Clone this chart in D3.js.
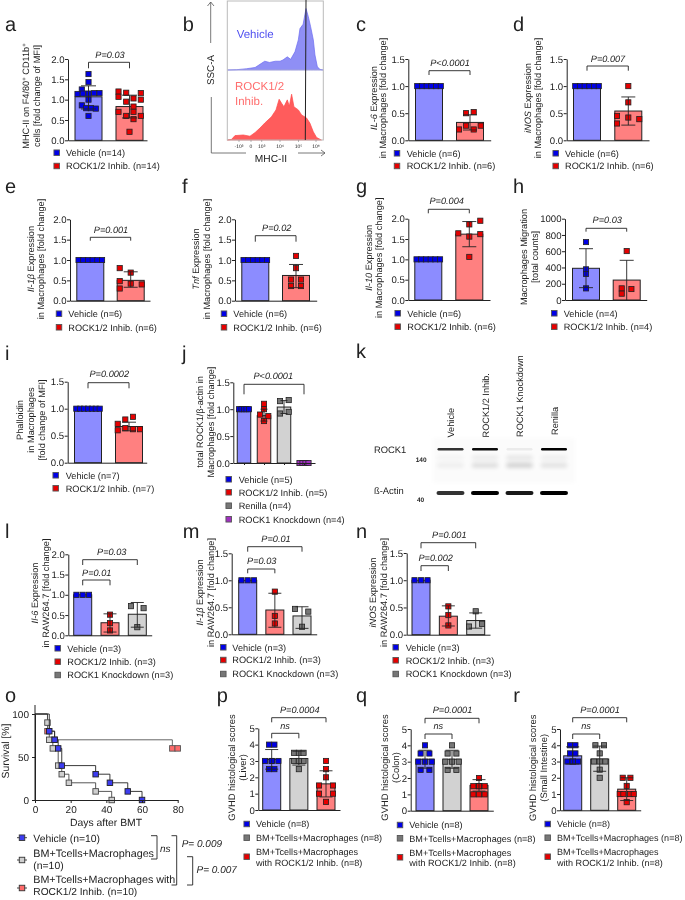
<!DOCTYPE html>
<html><head><meta charset="utf-8">
<script src="https://cdnjs.cloudflare.com/ajax/libs/d3/7.8.5/d3.min.js"></script>
<style>html,body{margin:0;padding:0;background:#fff}svg{display:block;filter:blur(.3px)}text{font-family:"Liberation Sans",Arial,sans-serif;fill:#222;text-rendering:geometricPrecision}</style>
</head><body><svg id="c" width="685" height="900"></svg>
<script>
// ---------- DATA ----------
const one=n=>Array(n).fill(1);
const aVeh=[1.63,1.43,1.25,1.14,1.15,1.16,1.16,.86,.79,.79,.78,.6,1.15,1.0];
const aRock=[1.2,1.07,1.17,1.16,1.0,.95,.83,.7,.7,.6,.52,.6,.21,1.03];
const aMean=[1.07,.83],aLo=[.77,.55],aHi=[1.34,1.11];
const cRock=[.5,.52,.27,.27,.2,.2],cMean=[1,.33],cLo=[1,.19],cHi=[1,.47];
const dRock=[1,.7,.45,.42,.39,.31],dMean=[1,.54],dLo=[1,.28],dHi=[1,.8];
const eRock=[.8,.69,.48,.42,.4,.3],eMean=[1,.5],eLo=[1,.33],eHi=[1,.71];
const fRock=[1.1,.8,.52,.52,.36,.36],fMean=[1,.62],fLo=[1,.32],fHi=[1,.89];
const gRock=[1.95,1.86,1.64,1.62,1.56,1.06],gMean=[1,1.62],gLo=[1,1.31],gHi=[1,1.93];
const hVeh=[713,377,320,143],hRock=[602,143,135,78],hMean=[390,245],hLo=[152,0],hHi=[631,488];
const iRock=[.85,.8,.72,.64,.6,.62,.62],iMean=[1,.67],iLo=[1,.59],iHi=[1,.75];
const jRock=[1.1,1,.9,.87,.78],jRen=[1.15,1.17,.92,.95],jKd=[0,0,0,0],jMean=[1,.88,1.04,0],jLo=[1,.78,.92,0],jHi=[1,1.0,1.16,0];
const lRock=[.51,.3,.12],lKd=[.72,.67,.2],lMean=[1,.31,.52],lLo=[1,.08,.2],lHi=[1,.53,.81];
const mRock=[.79,.34,.2],mKd=[.47,.42,.14],mMean=[1,.45,.34],mLo=[1,.13,.11],mHi=[1,.76,.51];
const nRock=[.52,.36,.17],nKd=[.43,.15,.2],nMean=[1,.34,.26],nLo=[1,.16,.12],nHi=[1,.53,.4];
const pVeh=[4,4,3,3,3,3,2.5,2.5],pBm=[3.5,3.5,3.5,3,3,3,3,2.5],pRock=[3,2.5,2,1.5,1.5,1,1,.5],pMean=[3.1,3.15,1.6],pLo=[2.5,2.75,.8],pHi=[3.7,3.6,2.4];
const qVeh=[4,3.5,3.5,3,3,3,2.5,2.5],qBm=[4,3.5,3.5,3,3,3,2.5,2.5],qRock=[2,1.5,1.5,1.5,1.5,1,1,1],qMean=[3.15,3.15,1.55],qLo=[2.6,2.6,1.2],qHi=[3.7,3.7,1.9];
const rVeh=[4,4,3.5,3.5,3,3,3,3],rBm=[4,4,3.5,3,3,3,2.5,2],rRock=[2,2,1.5,1,1,1,1,.5],rMean=[3.35,3.15,1.3],rLo=[2.85,2.4,.6],rHi=[3.9,3.95,2.0];
// flow cytometry histograms (percent of channel, percent of peak)
const flowVehX=[0,9.7,20,29,36,39,44,50,55,58,62.5,66,70.5,74,75.7,79,82,84.4,86.8,89.6,91.3,93.8,96.5,100];
const flowVehH=[0,.5,2,4,11,14,12,14,14,16,21,17,29,48,66,73,98,85,69,48,24,5,1,0];
const flowRockX=[0,4.5,8,16.7,23.6,29,34,39,46,50.7,54,56.6,59,62.5,64.6,67,69.4,74,77.4,82.6,86,89.6,93,98];
const flowRockH=[0,1,7,8,6,12,19,27,37,48,65,58.5,53,64,54,73,53,48,40,35,27,13,4,0];
const flowTicks=["-10³","0","10³","10⁴","10⁵","10⁶"];
// western blot
const blotLanes=["Vehicle","ROCK1/2 Inhib.","ROCK1 Knockdown","Renilla"];
const rock1Band=[.8,.95,.06,1],actinBand=[.8,1,.9,1],smudgeBand=[.06,.13,.18,.11];
// survival
const survVehDays=[0,8,11,13,15,34,42,52,60],survVeh=[100,80,70,60,40,30,20,10,0];
const survBmDays=[0,7,8,10,13,15,19,34,43],survBm=[100,90,70,60,40,30,20,10,0];
const survRockDays=[0,7,11,77,80],survRock=[100,80,70,60,60];
// ---------- STYLE / LAYOUT ----------
const BAR={veh:"#8c8cff",rock:"#ff8080",gray:"#d2d2d2",pur:"#d070e0"};
const DOT={veh:"#0000e6",rock:"#e60000",gray:"#777",pur:"#a030c0"};
const row=(n,s)=>d3.range(n).map(i=>(i-(n-1)/2)*s);
const V="Vehicle",RK="ROCK1/2 Inhib.",KD="ROCK1 Knockdown",RN="Renilla",BM="BM+Tcells+Macrophages";
const panels=[
{l:"a",lx:5,ly:31,x:68,top:59,bot:140.3,max:2,step:.5,end:147,c:[88.5,129.5],bw:27,g:["veh","rock"],vals:[aVeh,aRock],m:aMean,lo:aLo,hi:aHi,
 off:[[0,0,-6.7,-11,0,5.7,11,-6.7,-2.3,2.3,7.3,0,-5.7,0],[-11,-11,-3.3,11.3,11.3,-3.3,4,4,-11,-3.3,4,11.3,0,4]],cap:15,
 br:[{a:0,b:1,y:62.3,t:68.3,tx:110,ty:58.3,s:"P=0.03"}],yl:{lines:["MHC-II on F4/80<sup>+</sup> CD11b<sup>+</sup>","cells [fold change of MFI]"],xs:[29.3,40],cy:96},
 lg:{sx:56.7,tx:66,ys:[152.7,166],items:[["veh",V+" (n=14)"],["rock",RK+" (n=14)"]]}},
{l:"c",lx:356,ly:31,x:408.3,top:59,bot:140.3,max:1.5,step:.5,end:490.7,c:[429,470],bw:27,g:["veh","rock"],vals:[one(6),cRock],m:cMean,lo:cLo,hi:cHi,
 off:[row(6,4.7),[-4,3.7,-4,10.7,-11,3.7]],cap:14,
 br:[{a:0,b:1,y:70.7,t:75,tx:450,ty:66,s:"P<0.0001"}],yl:{lines:["<i>IL-6</i> Expression","in Macrophages [fold change]"],xs:[376.7,385.7],cy:98},
 lg:{sx:397,tx:406.7,ys:[153.3,166],items:[["veh",V+" (n=6)"],["rock",RK+" (n=6)"]]}},
{l:"d",lx:513,ly:31,x:566.7,top:59,bot:140.3,max:1.5,step:.5,end:649,c:[587,628.3],bw:27,g:["veh","rock"],vals:[one(6),dRock],m:dMean,lo:dLo,hi:dHi,
 off:[row(6,4.7),[0,0,-11.3,0,11,-11.3]],cap:14,
 br:[{a:0,b:1,y:66,t:70.7,tx:608,ty:61.7,s:"P=0.007"}],yl:{lines:["<i>iNOS</i> Expression","in Macrophages [fold change]"],xs:[531,541],cy:98},
 lg:{sx:555.7,tx:565,ys:[153.3,166],items:[["veh",V+" (n=6)"],["rock",RK+" (n=6)"]]}},
{l:"e",lx:5,ly:193,x:70,top:219.3,bot:300.7,max:2,step:.5,end:150,c:[90.3,130.7],bw:27,g:["veh","rock"],vals:[one(6),eRock],m:eMean,lo:eLo,hi:eHi,
 off:[row(6,4.7),[-11,0,-11,0,11,-11]],cap:14,
 br:[{a:0,b:1,y:237.3,t:240.7,tx:111,ty:232.7,s:"P=0.001"}],yl:{lines:["<i>Il-1β</i> Expression","in Macrophages [fold change]"],xs:[33.5,44],cy:259},
 lg:{sx:59,tx:68.3,ys:[313.7,327.3],items:[["veh",V+" (n=6)"],["rock",RK+" (n=6)"]]}},
{l:"f",lx:182,ly:193,x:235,top:219.3,bot:300.7,max:2,step:.5,end:316.7,c:[255.3,296],bw:27,g:["veh","rock"],vals:[one(6),fRock],m:fMean,lo:fLo,hi:fHi,
 off:[row(6,4.7),[0,0,-5,5,-5,5]],cap:14,
 br:[{a:0,b:1,y:235.7,t:241.7,tx:276.7,ty:230.7,s:"P=0.02"}],yl:{lines:["<i>Tnf</i> Expression","in Macrophages [fold change]"],xs:[199,210],cy:259},
 lg:{sx:224,tx:233.3,ys:[313.7,327.3],items:[["veh",V+" (n=6)"],["rock",RK+" (n=6)"]]}},
{l:"g",lx:356,ly:193,x:408.3,top:218.7,bot:300,max:2,step:.5,end:490,c:[428.3,469.3],bw:27,g:["veh","rock"],vals:[one(6),gRock],m:gMean,lo:gLo,hi:gHi,
 off:[row(6,4.7),[11,0,-11,11,0,0]],cap:14,
 br:[{a:0,b:1,y:209.3,t:213.3,tx:446.7,ty:204,s:"P=0.004"}],yl:{lines:["<i>Il-10</i> Expression","in Macrophages [fold change]"],xs:[371.7,382.3],cy:257.8},
 lg:{sx:397.7,tx:407.3,ys:[313.3,326.7],items:[["veh",V+" (n=6)"],["rock",RK+" (n=6)"]]}},
{l:"h",lx:513,ly:193,x:565,top:218.7,bot:300,max:1000,step:200,fmt:"d",end:646.7,c:[586,626.7],bw:27,g:["veh","rock"],vals:[hVeh,hRock],m:hMean,lo:hLo,hi:hHi,
 off:[[0,0,0,0],[0,-5,4.7,-5]],cap:14,
 br:[{a:0,b:1,y:228.3,t:231.7,tx:607.3,ty:222.7,s:"P=0.03"}],yl:{lines:["Macrophages Migration","[total counts]"],xs:[526.7,537.7],cy:257},
 lg:{sx:554.3,tx:563.7,ys:[313.3,326.7],items:[["veh",V+" (n=4)"],["rock",RK+" (n=4)"]]}},
{l:"i",lx:5,ly:360,x:67.7,top:381.7,bot:462.7,max:1.5,step:.5,end:146.7,c:[88,129],bw:27,g:["veh","rock"],vals:[one(7),iRock],m:iMean,lo:iLo,hi:iHi,
 off:[row(7,3.9),[4,-3.7,-11.3,-3.7,-11.3,4,11]],cap:14,
 br:[{a:0,b:1,y:382.7,t:388.3,tx:109.3,ty:377.3,s:"P=0.0002"}],yl:{lines:["Phalloidin","in Macrophages","[fold change of MFI]"],xs:[22.7,34.3,45],cy:420},
 lg:{sx:55.7,tx:65.7,ys:[475.3,488.3],items:[["veh",V+" (n=7)"],["rock",RK+" (n=7)"]]}},
{l:"j",lx:182,ly:360,x:233.3,top:382.3,bot:463,max:1.5,step:.5,end:315,xticks:true,c:[244,304],bw:13.5,g:["veh","rock","gray","pur"],vals:[one(5),jRock,jRen,jKd],m:jMean,lo:jLo,hi:jHi,
 off:[row(5,2.5),[0,0,-4,4.3,0],[-4,4.7,-4,4.7],row(4,3)],cap:7,
 br:[{a:0,b:3,y:384.3,t:394.3,tx:273.3,ty:379.3,s:"P<0.0001"}],yl:{lines:["total ROCK1/β-actin in","Macrophages [fold change]"],xs:[203.3,214],cy:422},
 lg:{sx:228.7,tx:238.7,ys:[479.3,492.3,505.7,519.3],items:[["veh",V+" (n=5)"],["rock",RK+" (n=5)"],["gray",RN+" (n=4)"],["pur",KD+" (n=4)"]]}},
{l:"l",lx:5,ly:538,x:68.3,top:554.3,bot:635.3,max:2,step:.5,end:151.7,c:[82.7,137.3],bw:18,g:["veh","rock","gray"],vals:[one(3),lRock,lKd],m:lMean,lo:lLo,hi:lHi,
 off:[row(3,6.3),[0,0,0],[-6.3,6.3,0]],cap:13,
 br:[{a:0,b:1,y:580,t:585.3,tx:96.7,ty:575.7,s:"P=0.01"},{a:0,b:2,y:559.7,t:565,tx:111.7,ty:555,s:"P=0.03"}],yl:{lines:["<i>Il-6</i> Expression","in RAW264.7 [fold change]"],xs:[38.3,49],cy:593},
 lg:{sx:57.7,tx:67.3,ys:[648.3,661.7,675],items:[["veh",V+" (n=3)"],["rock",RK+" (n=3)"],["gray",KD+" (n=3)"]]}},
{l:"m",lx:182.7,ly:538,x:231.7,top:553.3,bot:634.3,max:1.5,step:.5,end:316.7,c:[247.7,302],bw:18,g:["veh","rock","gray"],vals:[one(3),mRock,mKd],m:mMean,lo:mLo,hi:mHi,
 off:[row(3,6.3),[0,0,0],[-7,6.3,0]],cap:13,
 br:[{a:0,b:1,y:569,t:573.3,tx:261.7,ty:564,s:"P=0.03"},{a:0,b:2,y:546.7,t:551.7,tx:276,ty:541.7,s:"P=0.01"}],yl:{lines:["<i>Il-1β</i> Expression","in RAW264.7 [fold change]"],xs:[203.3,214],cy:592.5},
 lg:{sx:223.3,tx:232.3,ys:[647.3,660,674],items:[["veh",V+" (n=3)"],["rock",RK+" (n=3)"],["gray",KD+" (n=3)"]]}},
{l:"n",lx:356,ly:538,x:406.7,top:553,bot:634.7,max:1.5,step:.5,end:490,c:[421,475.7],bw:18,g:["veh","rock","gray"],vals:[one(3),nRock,nKd],m:nMean,lo:nLo,hi:nHi,
 off:[row(3,6.5),[0,0,0],[0,-6.7,6.3]],cap:13,
 br:[{a:0,b:1,y:565.7,t:571,tx:435.7,ty:560.7,s:"P=0.002"},{a:0,b:2,y:542.7,t:548.3,tx:449.3,ty:537.7,s:"P=0.001"}],yl:{lines:["<i>iNOS</i> Expression","in RAW264.7 [fold change]"],xs:[376,386.7],cy:592.5},
 lg:{sx:395.7,tx:405.7,ys:[647.3,660.3,674],items:[["veh",V+" (n=3)"],["rock",RK+" (n=3)"],["gray",KD+" (n=3)"]]}},
{l:"p",fs:9.4,lfs:9.1,lx:216.7,ly:702,x:258.3,top:728.3,bot:810,max:5,step:1,fmt:"d",end:340,c:[271.7,326],bw:18,g:["veh","gray","rock"],vals:[pVeh,pBm,pRock],m:pMean,lo:pLo,hi:pHi,
 off:[[-2.7,2.7,-6.7,0,6.7,0,-2.7,2.7],[-4.7,0,4.7,-4.7,0,4.7,0,0],[0,0,0,-7,7,-7,7,0]],cap:13,
 br:[{a:0,b:1,y:733.3,t:738.3,tx:285,ty:729,s:"ns"},{a:0,b:2,y:717.7,t:722.3,tx:299.7,ty:712.7,s:"P=0.0004"}],yl:{lines:["GVHD histological scores","(Liver)"],xs:[235,245.7],cy:767.5},
 lg:{sx:246.7,tx:256,ys:[824,837.7,856.7],items:[["veh",V+" (n=8)"],["gray",BM+" (n=8)"],["rock",BM+"|with "+RK+" (n=8)"]]}},
{l:"q",fs:9.4,lfs:9.1,lx:356,ly:702,x:410.7,top:729,bot:810.7,max:5,step:1,fmt:"d",end:493.3,c:[425,479],bw:18,g:["veh","gray","rock"],vals:[qVeh,qBm,qRock],m:qMean,lo:qLo,hi:qHi,
 off:[[0,-4.4,4.4,-6.7,0,6.7,-4.4,4.4],[0,-4.4,4.4,-6.7,0,6.7,-4.4,4.4],[0,-5.7,0,5.7,0,-5.7,0,5.7]],cap:13,
 br:[{a:0,b:1,y:734,t:739,tx:438.3,ty:729.3,s:"ns"},{a:0,b:2,y:718.3,t:723.3,tx:452.5,ty:713.3,s:"P=0.0001"}],yl:{lines:["GVHD histological scores","(Colon)"],xs:[388.3,399],cy:767.5},
 lg:{sx:400,tx:409.3,ys:[825,838.3,857.3],items:[["veh",V+" (n=8)"],["gray",BM+" (n=8)"],["rock",BM+"|with "+RK+" (n=8)"]]}},
{l:"r",fs:9.4,lfs:9.05,lx:513.3,ly:702,x:560,top:729,bot:810.3,max:5,step:1,fmt:"d",end:640.7,c:[572.7,626.7],bw:18,g:["veh","gray","rock"],vals:[rVeh,rBm,rRock],m:rMean,lo:rLo,hi:rHi,
 off:[[-2.7,2.7,-2.7,2.7,-5.3,0,5.3,0],[-4.3,4.3,0,-5.7,0,5.7,0,0],[-4,3.7,0,-7,-3.3,3.5,7,0]],cap:13,
 br:[{a:0,b:1,y:734,t:739,tx:586,ty:729.3,s:"ns"},{a:0,b:2,y:717.7,t:722.3,tx:600,ty:713.3,s:"P=0.0001"}],yl:{lines:["GVHD histological scores","(Small Intestine)"],xs:[536,546.7],cy:767.8},
 lg:{sx:547.7,tx:557,ys:[824,837.7,856.7],items:[["veh",V+" (n=8)"],["gray",BM+" (n=8)"],["rock",BM+"|with "+RK+" (n=8)"]]}}
];
const INK="#222";
const svg=d3.select("#c");
function rich(t,str,fs){
  let lift=0;
  for(const m of str.matchAll(/<(i|sup)>(.*?)<\/\1>|[^<]+/g)){
    const s=t.append("tspan").text(m[2]!==undefined?m[2]:m[0]);
    if(m[1]==="i")s.attr("font-style","italic");
    if(m[1]==="sup"){s.attr("font-size",fs*.65).attr("dy",-3);lift=3;}
    else if(lift){s.attr("dy",lift);lift=0;}
  }
}
function square(g,cx,cy,size,fill,sw=.8,stroke="#222"){
  return g.append("rect").attr("x",cx-size/2).attr("y",cy-size/2).attr("width",size).attr("height",size).attr("fill",fill).attr("stroke",stroke).attr("stroke-width",sw);
}
function letter(l,x,y){svg.append("text").attr("x",x).attr("y",y).attr("font-size",20).text(l);}
function drawPanel(p){
  letter(p.l,p.lx,p.ly);
  const fs=p.fs||9.2;
  const g=svg.append("g");
  const y=d3.scaleLinear().domain([0,p.max]).range([p.bot,p.top]);
  const x=d3.scalePoint().domain(d3.range(p.vals.length)).range(p.c);
  const bw=p.bw;
  p.vals.forEach((vs,i)=>{
    const k=p.g[i];
    g.append("rect").attr("x",x(i)-bw/2).attr("y",y(p.m[i])).attr("width",bw).attr("height",Math.max(0,y(0)-y(p.m[i])))
     .attr("fill",BAR[k]).attr("stroke",INK).attr("stroke-width",1);
    vs.forEach((v,j)=>square(g,x(i)+p.off[i][j],y(v),5.2,DOT[k]));
    if(p.lo[i]!==p.hi[i]){
      const w=g.append("g").attr("stroke",INK).attr("stroke-width",.9);
      w.append("line").attr("x1",x(i)).attr("x2",x(i)).attr("y1",y(p.lo[i])).attr("y2",y(p.hi[i]));
      [p.lo[i],p.hi[i]].forEach(e=>{ if(e>0) w.append("line").attr("x1",x(i)-p.cap/2).attr("x2",x(i)+p.cap/2).attr("y1",y(e)).attr("y2",y(e));});
    }
  });
  const ticks=d3.range(0,p.max+1e-9,p.step);
  const ax=g.append("g").attr("transform",`translate(${p.x},0)`).call(d3.axisLeft(y).tickValues(ticks).tickSize(3).tickSizeOuter(0).tickFormat(d3.format(p.fmt||".1f")));
  ax.selectAll("text").attr("font-size",9.6).style("font-family",'"Liberation Sans"').attr("x",-3.5).attr("fill",INK);
  ax.selectAll("path,line").attr("stroke",INK);
  const xAxisScale=d3.scaleLinear().domain([p.x,p.end]).range([p.x,p.end]);
  const bx=g.append("g").attr("transform",`translate(0,${p.bot})`).call(d3.axisBottom(xAxisScale).tickValues(p.xticks?x.domain().map(x):[]).tickFormat("").tickSize(p.xticks?2:0).tickSizeOuter(0));
  bx.selectAll("path,line").attr("stroke",INK);
  p.br.forEach(b=>{
    const x1=x(b.a),x2=x(b.b);
    g.append("path").attr("d",d3.line()([[x1,b.t],[x1,b.y],[x2,b.y],[x2,b.t]])).attr("fill","none").attr("stroke",INK).attr("stroke-width",.9);
    g.append("text").attr("x",b.tx).attr("y",b.ty).attr("text-anchor","middle").attr("font-size",9.2).attr("font-style","italic").attr("fill","#333").text(b.s);
  });
  p.yl.lines.forEach((s,i)=>{
    const t=g.append("text").attr("transform",`translate(${p.yl.xs[i]},${p.yl.cy}) rotate(-90)`).attr("text-anchor","middle").attr("font-size",fs);
    rich(t,s,fs);
  });
  legend(g,p.lg,p.lfs||fs);
}
function legend(g,lg,fs){
  lg.items.forEach(([k,txt],i)=>{
    const yy=lg.ys[i];
    square(g,lg.sx,yy,5.5,DOT[k],.9,"#555");
    const parts=txt.split("|");
    parts.forEach((s,j)=>{
      const dy=parts.length>1?(j===0?-5:5.5):0;
      g.append("text").attr("x",lg.tx).attr("y",yy+dy+3.3).attr("font-size",fs).attr("fill","#333").text(s);
    });
  });
}
panels.forEach(drawPanel);

// ---------- panel b ----------
(function(){
  letter("b",182.7,31);
  const g=svg.append("g");
  const fx=d3.scaleLinear().domain([0,100]).range([227.3,323.3]);
  const h=d3.scaleLinear().domain([0,100]).range([0,62.7]);
  const mk=(X,H,base,fill,line)=>{
    const data=X.map((d,i)=>[d,H[i]]);
    g.append("path").attr("d",d3.area().x(d=>fx(d[0])).y0(base).y1(d=>base-h(d[1]))(data)).attr("fill",fill).attr("stroke",line).attr("stroke-width",.7);
  };
  mk(flowVehX,flowVehH,70,"#8f8ff5","#6b6bf0");
  mk(flowRockX,flowRockH,140,"#ff5c5c","#ff4a4a");
  g.append("rect").attr("x",227.3).attr("y",1).attr("width",96).attr("height",139).attr("fill","none").attr("stroke","#bbb").attr("stroke-width",1);
  g.append("line").attr("x1",227.3).attr("x2",323.3).attr("y1",70).attr("y2",70).attr("stroke","#ccc").attr("stroke-width",.6);
  g.append("line").attr("x1",306).attr("x2",305.3).attr("y1",0).attr("y2",140).attr("stroke","#222").attr("stroke-width",1);
  g.append("text").attr("x",236.7).attr("y",38).attr("font-size",11.5).style("fill","#5050f0").text("Vehicle");
  g.append("text").attr("x",235).attr("y",90).attr("font-size",11.5).style("fill","#ff6f6f").text("ROCK1/2");
  g.append("text").attr("x",235).attr("y",104.5).attr("font-size",11.5).style("fill","#ff6f6f").text("Inhib.");
  const pos={"-10³":239,"0":251,"10³":261.7,"10⁴":280,"10⁵":298.5,"10⁶":316};
  flowTicks.forEach(t=>g.append("text").attr("x",pos[t]).attr("y",148).attr("text-anchor","middle").attr("font-size",5).attr("fill","#444").text(t));
  flowTicks.forEach(t=>g.append("line").attr("x1",pos[t]).attr("x2",pos[t]).attr("y1",140).attr("y2",142).attr("stroke","#888").attr("stroke-width",.6));
  const lc="#555";
  const line=(pts)=>g.append("path").attr("d",d3.line()(pts)).attr("fill","none").attr("stroke",lc).attr("stroke-width",.8);
  line([[210.7,43],[210.7,2]]);line([[207.5,6],[210.7,2],[214,6]]);
  line([[211.3,97],[211.3,153],[246,153]]);
  line([[298,153],[325,153]]);line([[321,150],[325,153],[321,156]]);
  g.append("text").attr("transform","translate(213.5,70) rotate(-90)").attr("text-anchor","middle").attr("font-size",9.8).text("SSC-A");
  g.append("text").attr("x",271).attr("y",161.5).attr("text-anchor","middle").attr("font-size",10.2).text("MHC-II");
})();

// ---------- panel k ----------
(function(){
  letter("k",356,358);
  const g=svg.append("g");
  const defs=svg.append("defs");
  defs.append("filter").attr("id","b1").attr("x","-20%").attr("y","-100%").attr("width","140%").attr("height","300%").append("feGaussianBlur").attr("stdDeviation",.6);
  defs.append("filter").attr("id","b2").attr("x","-30%").attr("y","-100%").attr("width","160%").attr("height","300%").append("feGaussianBlur").attr("stdDeviation",2);
  const lane=d3.scalePoint().domain(blotLanes).range([450.5,554]);
  const labelY={"Vehicle":437.5,"ROCK1/2 Inhib.":437.5,"ROCK1 Knockdown":437,"Renilla":435};
  const labelX={"Vehicle":453.5,"ROCK1/2 Inhib.":488.5,"ROCK1 Knockdown":523.3,"Renilla":557.7};
  g.append("rect").attr("x",433).attr("y",438).attr("width",142).attr("height",45).attr("fill","#fbfbfb").attr("filter","url(#b2)");
  const bands=(arr,cy,hgt,w)=>arr.forEach((v,i)=>{
    const a=blotLanes[i];
    g.append("rect").attr("x",lane(a)-w/2).attr("y",cy-hgt/2).attr("width",w).attr("height",hgt).attr("rx",hgt/2).attr("fill","#000").attr("opacity",v).attr("filter","url(#b1)");
  });
  smudgeBand.forEach((v,i)=>{
    const a=blotLanes[i];
    [465.5,458].forEach((cy,j)=>g.append("rect").attr("x",lane(a)-13).attr("y",cy-2.5).attr("width",26).attr("height",4.5).attr("fill","#000").attr("opacity",j?v*.5:v).attr("filter","url(#b2)"));
  });
  bands(rock1Band,449.3,2.4,26);
  bands(actinBand,493,4.2,28);
  blotLanes.forEach(a=>g.append("text").attr("transform",`translate(${labelX[a]},${labelY[a]}) rotate(-90)`).attr("font-size",9.2).attr("fill","#333").text(a));
  g.append("text").attr("x",374).attr("y",452.5).attr("font-size",9.4).attr("fill","#333").text("ROCK1");
  g.append("text").attr("x",374).attr("y",494).attr("font-size",9.4).attr("fill","#333").text("ß-Actin");
  g.append("text").attr("x",415.7).attr("y",462.3).attr("font-size",6.5).attr("font-weight","bold").text("140");
  g.append("text").attr("x",417).attr("y",501.7).attr("font-size",6.5).attr("font-weight","bold").text("40");
})();

// ---------- panel o ----------
(function(){
  letter("o",5,702);
  const g=svg.append("g");
  const x=d3.scaleLinear().domain([0,80]).range([35,177.7]);
  const y=d3.scaleLinear().domain([0,100]).range([800,714]);
  const ln=d3.line().x(d=>x(d[0])).y(d=>y(d[1])).curve(d3.curveStepAfter);
  const S=[[survRockDays,survRock,"#ff6a6a","#555"],[survBmDays,survBm,"#cfcfcf","#444"],[survVehDays,survVeh,"#3c3cf0","#222"]];
  S.forEach(([D,V2,f,c])=>{
    g.append("path").attr("d",ln(D.map((d,i)=>[d,V2[i]]))).attr("fill","none").attr("stroke",c).attr("stroke-width",.9);
    D.forEach((d,i)=>{ if(i) square(g,x(d),y(V2[i]),5.5,f,.9,c);});
  });
  const ay=g.append("g").attr("transform","translate(35,0)").call(d3.axisLeft(y).tickValues([0,50,100]).tickSize(3).tickSizeOuter(0));
  const ax=g.append("g").attr("transform","translate(0,800)").call(d3.axisBottom(x).tickValues([0,20,40,60,80]).tickSize(3).tickSizeOuter(0));
  g.append("line").attr("x1",35).attr("x2",35).attr("y1",705).attr("y2",800).attr("stroke",INK);
  [ay,ax].forEach(a=>{a.selectAll("path,line").attr("stroke",INK);a.selectAll("text").attr("font-size",10).style("font-family",'"Liberation Sans"').attr("fill",INK);});
  g.append("text").attr("transform","translate(9,751) rotate(-90)").attr("text-anchor","middle").attr("font-size",10.4).text("Survival [%]");
  g.append("text").attr("x",106).attr("y",825.7).attr("text-anchor","middle").attr("font-size",10.4).text("Days after BMT");
  const lg=[[837.7,"#3c3cf0",["Vehicle (n=10)"],[842],[10.4]],[860,"#cfcfcf",[BM,"(n=10)"],[857.3,868.6],[10.75,10.4]],[888,"#ff6a6a",[BM+" with","ROCK1/2 Inhib. (n=10)"],[883,894.5],[10.7,10.2]]];
  lg.forEach(([yy,f,ts,ys,sz])=>{
    g.append("line").attr("x1",17).attr("x2",27).attr("y1",yy).attr("y2",yy).attr("stroke","#444");
    square(g,22,yy,5.5,f,.9,"#333");
    ts.forEach((t,i)=>g.append("text").attr("x",33.3).attr("y",ys[i]).attr("font-size",sz[i]).attr("fill","#333").text(t));
  });
  const br=(pts)=>g.append("path").attr("d",d3.line()(pts)).attr("fill","none").attr("stroke",INK).attr("stroke-width",.9);
  br([[151,835.7],[157,835.7],[157,859],[151,859]]);
  br([[171.5,835.7],[176.7,835.7],[176.7,885],[171.5,885]]);
  br([[187,856.7],[192.7,856.7],[192.7,885],[187,885]]);
  const it=(s,xx,yy)=>g.append("text").attr("x",xx).attr("y",yy).attr("font-size",10).attr("font-style","italic").text(s);
  it("ns",160,851.7);it("P= 0.009",181.7,847.3);it("P= 0.007",196.5,873);
})();
</script></body></html>
